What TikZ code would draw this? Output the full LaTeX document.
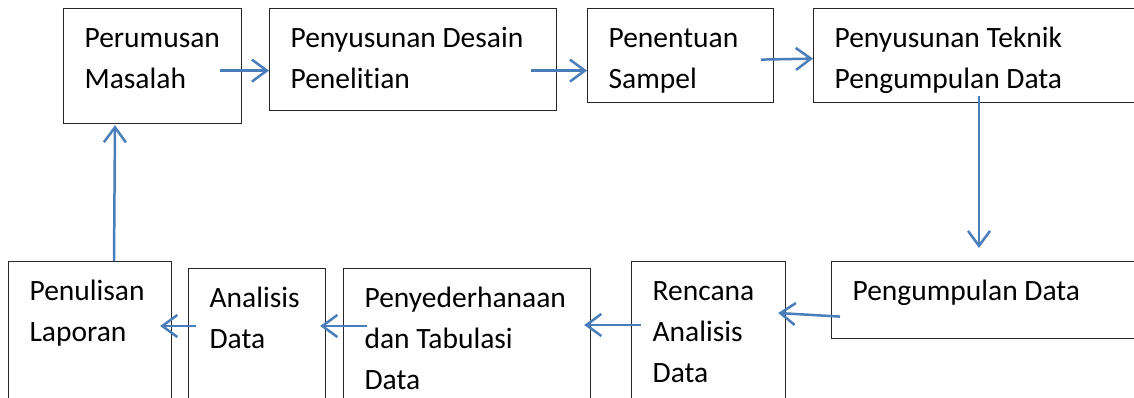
\documentclass[tikz,border=0pt]{standalone}
\usepackage{fontspec}
\setmainfont{Carlito}[Ligatures=NoCommon]
\usetikzlibrary{arrows.meta,calc}
\definecolor{flowblue}{HTML}{4A7EBB}
\hyphenpenalty=10000

\begin{document}
\begin{tikzpicture}[
  x=1pt, y=-1pt,
  stage/.style={draw=black!85, line width=1.2pt, anchor=north west, align=flush left,
    inner xsep=21pt, inner ysep=0pt, text height=39pt,
    font=\fontsize{29.5}{41}\selectfont},
  flow/.style={-{Straight Barb[length=15pt,width=22pt]}, draw=flowblue, line width=2.5pt}]

  \useasboundingbox (0,0) rectangle (1134,398);

  % Top row, left to right
  \node[stage, text width=136pt, text depth=76pt] (masalah) at (63,8) {Perumusan\\Masalah};
  \node[stage, text width=245pt, text depth=63pt] (desain) at (269,8) {Penyusunan Desain\\Penelitian};
  \node[stage, text width=144pt, text depth=55pt] (sampel) at (587,8) {Penentuan\\Sampel};
  \node[stage, text width=293pt, text depth=55pt] (teknik) at (813,8) {Penyusunan Teknik\\Pengumpulan Data};

  % Bottom row, right to left
  \node[stage, text width=277pt, text depth=38pt] (pengumpulan) at (831,261) {Pengumpulan Data};
  \node[stage, text width=112pt, text depth=110pt] (rencana) at (631,261) {Rencana\\Analisis\\Data};
  \node[stage, text width=205pt, text depth=103pt] (tabulasi) at (343,268) {Penyederhanaan\\dan Tabulasi\\Data};
  \node[stage, text width=95pt, text depth=103pt] (analisis) at (188,268) {Analisis\\Data};
  \node[stage, text width=121pt, text depth=110pt] (laporan) at (8,261) {Penulisan\\Laporan};

  \draw[flow] ($(masalah.east)+(-22,4.5)$) -- ($(desain.west)+(0,11)$);
  \draw[flow] ($(desain.east)+(-26,11)$) -- ($(sampel.west)+(0,15)$);
  \draw[flow] ($(sampel.east)+(-13,4)$) -- ($(teknik.west)+(0,3)$);
  \draw[flow] ($(teknik.south west)+(166,-7)$) -- ($(pengumpulan.north west)+(148,-13)$);
  \draw[flow] ($(pengumpulan.west)+(9,16.5)$) -- ($(rencana.north east)+(-8,52)$);
  \draw[flow] ($(rencana.north west)+(10,64)$) -- ($(tabulasi.north east)+(-7,57)$);
  \draw[flow] ($(tabulasi.north west)+(24,58)$) -- ($(analisis.north east)+(-6,58)$);
  \draw[flow] ($(analisis.north west)+(8,58)$) -- ($(laporan.north east)+(-12,65)$);
  \draw[flow] ($(laporan.north west)+(106,0)$) -- ($(masalah.south west)+(52,1)$);

\end{tikzpicture}
\end{document}
